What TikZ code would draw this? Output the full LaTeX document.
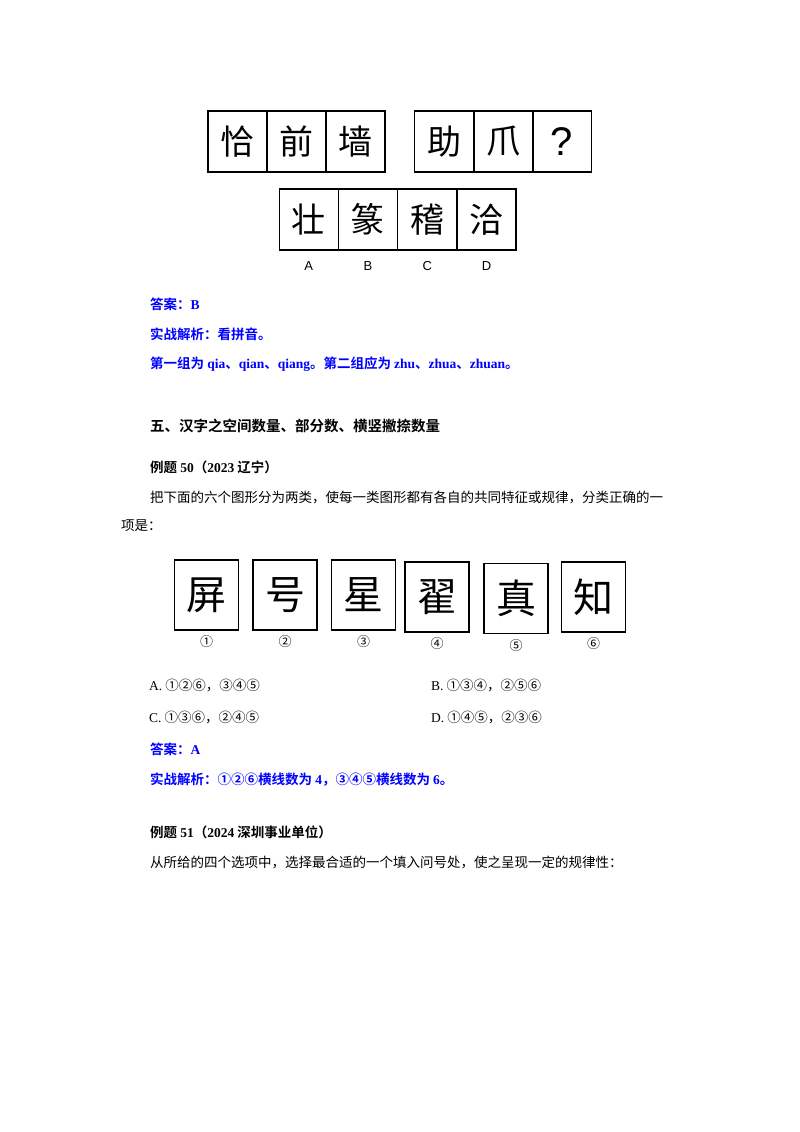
\documentclass[tikz,border=0pt]{standalone}
\usepackage{fontspec}
\newfontfamily\cjk{Noto Sans CJK SC}
\newfontfamily\cjkb{Noto Sans CJK SC Bold}
\newfontfamily\lat{Liberation Serif}
\newfontfamily\las{Liberation Sans}
\begin{document}
\begin{tikzpicture}[x=1pt,y=-1pt,
  cell/.style={draw,line width=1.1pt,minimum width=59pt,minimum height=61pt,inner sep=0pt,font=\cjk\fontsize{34}{34}\selectfont},
  sq/.style={draw,line width=1.2pt,minimum width=64pt,minimum height=70pt,inner sep=0pt,font=\cjk\fontsize{40}{40}\selectfont},
  lab/.style={font=\fontsize{13}{13}\selectfont\las},
  txt/.style={anchor=west,inner sep=0pt,font=\cjk\fontsize{13.5}{14}\selectfont},
  blue/.style={anchor=west,inner sep=0pt,text=blue,font=\cjkb\fontsize{13.5}{14}\selectfont},
  head/.style={anchor=west,inner sep=0pt,font=\cjkb\fontsize{14.5}{15}\selectfont}]
\fill[white] (0,0) rectangle (800,1132);
\useasboundingbox (0,0) rectangle (800,1132);
% top rows
\foreach \c [count=\i] in {恰,前,墙}{\node[cell] (t\i) at ({208+29.5+59*(\i-1)},141.5) {\c};}
\node[cell] (u1) at (444,141.5) {助};
\node[cell] (u2) at (503.5,141.5) {爪};
\node[cell,font=\fontsize{40}{40}\selectfont\las] (u3) at (562,141.5) {?};
\foreach \c/\l [count=\i] in {壮/A,篆/B,稽/C,洽/D}{
  \node[cell] (o\i) at ({279+29.6+59.3*(\i-1)},219.5) {\c};
  \node[lab] (ol\i) at ({279+29.6+59.3*(\i-1)},266) {\l};}
\node[blue] (ans1) at (150,304) {答案：\lat\bfseries B};
\node[blue] (ex1) at (150,334) {实战解析：看拼音。};
\node[blue] (ex1b) at (150,364) {第一组为 {\lat\bfseries qia}、{\lat\bfseries qian}、{\lat\bfseries qiang}。第二组应为 {\lat\bfseries zhu}、{\lat\bfseries zhua}、{\lat\bfseries zhuan}。};
\node[head] (h5) at (150,426) {五、汉字之空间数量、部分数、横竖撇捺数量};
\node[head,font=\cjkb\fontsize{13.5}{14}\selectfont] (e50) at (150,467) {例题 {\lat\bfseries 50}（{\lat\bfseries 2023} 辽宁）};
\node[txt] (q1) at (150,497) {把下面的六个图形分为两类，使每一类图形都有各自的共同特征或规律，分类正确的一};
\node[txt] (q2) at (121,526) {项是：};
\foreach \c/\x/\y/\n in {屏/206.5/595/①,号/285/595/②,星/363.5/595/③,翟/437/597/④,真/516/598.5/⑤,知/593.5/597/⑥}{
  \node[sq] (s\n) at (\x,\y) {\c};
  \node[font=\cjk\fontsize{13}{13}\selectfont] at (\x,{\y+47}) {\n};}
\node[txt] (oa) at (149,686) {{\lat A.} ①②⑥，③④⑤};
\node[txt] (ob) at (431,686) {{\lat B.} ①③④，②⑤⑥};
\node[txt] (oc) at (149,718) {{\lat C.} ①③⑥，②④⑤};
\node[txt] (od) at (431,718) {{\lat D.} ①④⑤，②③⑥};
\node[blue] (ans2) at (150,749) {答案：\lat\bfseries A};
\node[blue] (ex2) at (150,780) {实战解析：①②⑥横线数为 {\lat\bfseries 4}，③④⑤横线数为 {\lat\bfseries 6}。};
\node[head,font=\cjkb\fontsize{13.5}{14}\selectfont] (e51) at (150,832) {例题 {\lat\bfseries 51}（{\lat\bfseries 2024} 深圳事业单位）};
\node[txt] (q3) at (150,862) {从所给的四个选项中，选择最合适的一个填入问号处，使之呈现一定的规律性：};
\end{tikzpicture}
\end{document}
